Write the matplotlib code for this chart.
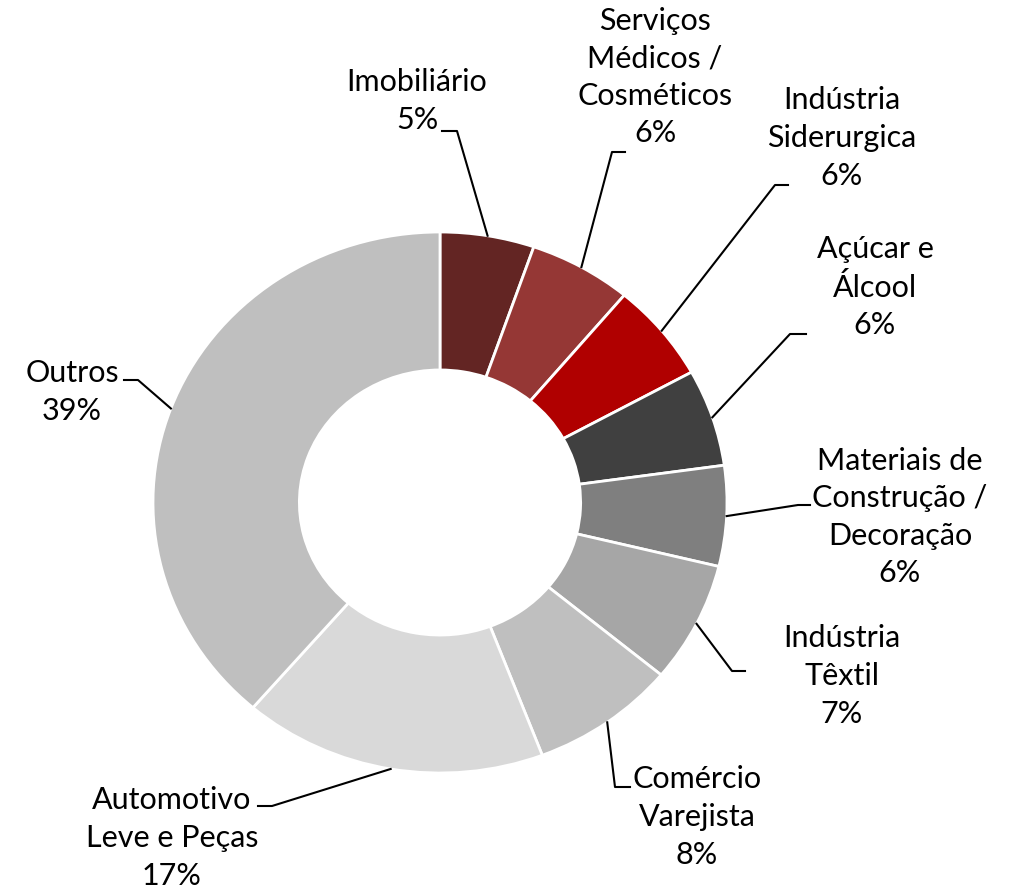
import numpy as np
import matplotlib.pyplot as plt

plt.rcParams['font.family'] = ['Lato', 'DejaVu Sans']

# data
labels = ['Imobiliário\n5%', 'Serviços\nMédicos /\nCosméticos\n6%', 'Indústria\nSiderurgica\n6%',
          'Açúcar e\nÁlcool\n6%', 'Materiais de\nConstrução /\nDecoração\n6%', 'Indústria\nTêxtil\n7%',
          'Comércio\nVarejista\n8%', 'Automotivo\nLeve e Peças\n17%', 'Outros\n39%']
shares = [5.3, 5.8, 5.9, 5.8, 6.0, 7.2, 8.2, 17.1, 38.7]
colors = ['#632523', '#953735', '#B00000', '#404040', '#7F7F7F', '#A6A6A6',
          '#BFBFBF', '#D9D9D9', '#BFBFBF']

# layout (pixels)
W, H = 1020, 889
cx, cy, rx, ry = 440, 502.5, 287, 270.5
label_pos = [(417, 101), (655, 77), (842, 138), (875, 287), (900, 517),
             (842, 676), (697, 817), (172, 838), (72, 392)]
# elbow point, then end of short horizontal next to the label
elbows = [((457, 131), (442, 131)), ((612, 152), (625, 152)), ((775, 185), (788, 185)),
          ((790, 334), (806, 334)), ((798, 505), (810, 505)), ((732, 671), (745, 671)),
          ((615, 787), (630, 787)), ((272, 806), (258, 806)), ((138, 380), (124, 380))]

fig = plt.figure(figsize=(W / 100, H / 100), dpi=100)
ax = fig.add_axes([(cx - rx) / W, (H - cy - ry) / H, 2 * rx / W, 2 * ry / H])

wedges, _ = ax.pie(shares, colors=colors, startangle=90, counterclock=False, radius=1,
                   wedgeprops=dict(width=0.51, edgecolor='white', linewidth=2))
ax.set_aspect('auto')
ax.set_xlim(-1, 1)
ax.set_ylim(-1, 1)
ax.axis('off')


def to_data(p):
    return (p[0] - cx) / rx, (cy - p[1]) / ry


for w, lab, pos, (e1, e2) in zip(wedges, labels, label_pos, elbows):
    mid = np.deg2rad((w.theta1 + w.theta2) / 2)
    tip = (np.cos(mid), np.sin(mid))
    a = to_data(e1)
    b = to_data(e2)
    ax.plot([tip[0], a[0], b[0]], [tip[1], a[1], b[1]], color='black', lw=1.5, clip_on=False)
    fig.text(pos[0] / W, 1 - pos[1] / H, lab, ha='center', va='center', ma='center',
             fontsize=22, linespacing=1.42, color='black')

fig.savefig('out.png', dpi=100, facecolor='white')
